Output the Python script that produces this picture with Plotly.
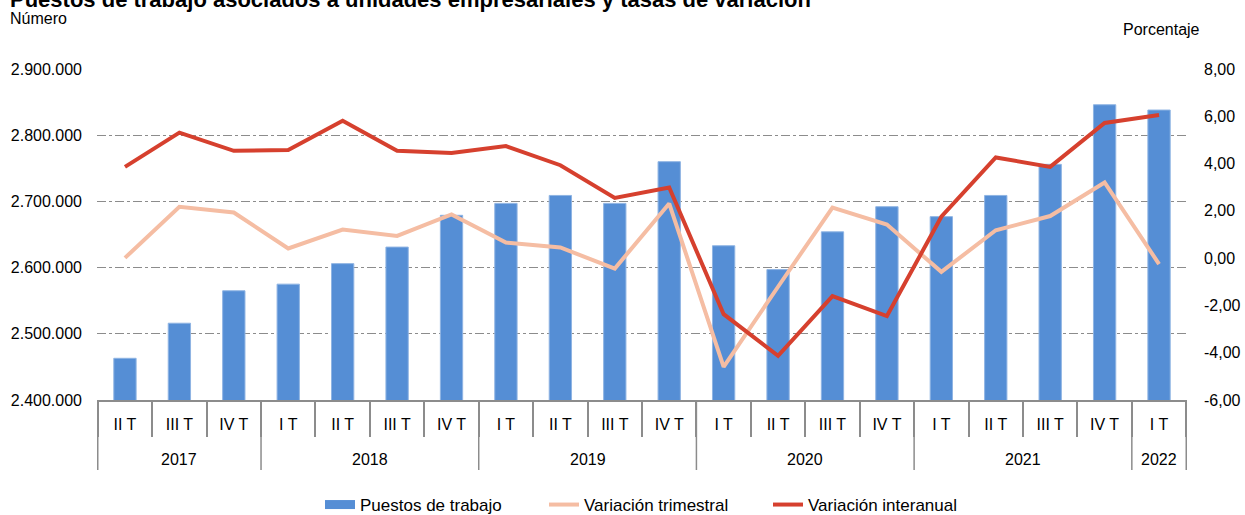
import plotly.graph_objects as go

# ---- data ----
years = ["2017", "2017", "2017",
         "2018", "2018", "2018", "2018",
         "2019", "2019", "2019", "2019",
         "2020", "2020", "2020", "2020",
         "2021", "2021", "2021", "2021",
         "2022"]
quarters = ["II T", "III T", "IV T",
            "I T", "II T", "III T", "IV T",
            "I T", "II T", "III T", "IV T",
            "I T", "II T", "III T", "IV T",
            "I T", "II T", "III T", "IV T",
            "I T"]
puestos = [2463000, 2516000, 2565000,
           2575000, 2606000, 2631000, 2679000,
           2697000, 2709000, 2697000, 2760000,
           2633000, 2597000, 2654000, 2692000,
           2677000, 2709000, 2756000, 2846000,
           2838000]
var_trimestral = [0.01, 2.17, 1.93,
                  0.41, 1.21, 0.94, 1.85,
                  0.66, 0.45, -0.44, 2.31,
                  -4.60, -1.21, 2.14, 1.42,
                  -0.58, 1.18, 1.78, 3.20,
                  -0.25]
var_interanual = [3.86, 5.31, 4.54,
                  4.57, 5.81, 4.54, 4.45,
                  4.74, 3.93, 2.55, 2.99,
                  -2.37, -4.13, -1.61, -2.45,
                  1.75, 4.26, 3.86, 5.72,
                  6.05]

left_tickvals = [2400000, 2500000, 2600000, 2700000, 2800000, 2900000]
left_ticktext = ["2.400.000", "2.500.000", "2.600.000", "2.700.000", "2.800.000", "2.900.000"]
right_tickvals = [-6, -4, -2, 0, 2, 4, 6, 8]
right_ticktext = ["-6,00", "-4,00", "-2,00", "0,00", "2,00", "4,00", "6,00", "8,00"]

title_text = "Puestos de trabajo asociados a unidades empresariales y tasas de variación"

BLUE = "#558ED5"
SALMON = "#F5BDA3"
RED = "#D6402E"
GREY = "#8C8C8C"
FONT = "Liberation Sans, Arial, sans-serif"

# unique category ids (year + quarter), shown with the quarter text
cats = [f"{y} {q}" for y, q in zip(years, quarters)]

# year groups derived from the data
groups = []
for i, y in enumerate(years):
    if not groups or groups[-1][0] != y:
        groups.append([y, i, i])
    else:
        groups[-1][2] = i

PLOT_H = 515 - 69 - 115

fig = go.Figure()
fig.add_trace(go.Bar(
    x=cats, y=puestos, name="Puestos de trabajo", yaxis="y",
    marker=dict(color=BLUE, line=dict(color="#8FB4E3", width=1)),
    showlegend=False,
))
# legend-only entry for the bars (wide rectangle swatch)
fig.add_trace(go.Scatter(
    x=[None], y=[None], mode="lines", name="Puestos de trabajo",
    line=dict(color=BLUE, width=9), showlegend=True,
))
fig.add_trace(go.Scatter(
    x=cats, y=var_trimestral, name="Variación trimestral", yaxis="y2",
    mode="lines", line=dict(color=SALMON, width=4),
))
fig.add_trace(go.Scatter(
    x=cats, y=var_interanual, name="Variación interanual", yaxis="y2",
    mode="lines", line=dict(color=RED, width=4),
))

annotations = [
    dict(text="<b>" + title_text + "</b>", xref="paper", yref="paper",
         x=(8 - 97) / 1090, y=1 + 70 / PLOT_H, xanchor="left", yanchor="middle",
         showarrow=False, font=dict(family=FONT, size=22, color="#000000")),
    dict(text="Número", xref="paper", yref="paper",
         x=(8 - 97) / 1090, y=1 + (69 - 18) / PLOT_H, xanchor="left", yanchor="middle",
         showarrow=False, font=dict(family=FONT, size=16, color="#000000")),
    dict(text="Porcentaje", xref="paper", yref="paper",
         x=(1202 - 97) / 1090, y=1 + (69 - 30) / PLOT_H, xanchor="right", yanchor="middle",
         showarrow=False, font=dict(family=FONT, size=16, color="#000000")),
]
shapes = []
for name, i0, i1 in groups:
    annotations.append(dict(
        text=name, xref="x", yref="paper", x=(i0 + i1) / 2, y=-59 / PLOT_H,
        xanchor="center", yanchor="middle", showarrow=False,
        font=dict(family=FONT, size=16, color="#000000")))
    shapes.append(dict(type="line", xref="x", yref="paper",
                       x0=i0 - 0.5, x1=i0 - 0.5, y0=0, y1=-70 / PLOT_H,
                       line=dict(color=GREY, width=1.5)))
shapes.append(dict(type="line", xref="x", yref="paper",
                   x0=groups[-1][2] + 0.5, x1=groups[-1][2] + 0.5, y0=0, y1=-70 / PLOT_H,
                   line=dict(color=GREY, width=1.5)))

fig.update_layout(
    width=1245, height=515,
    margin=dict(l=97, r=58, t=69, b=115, autoexpand=False),
    paper_bgcolor="white", plot_bgcolor="white",
    font=dict(family=FONT, size=16, color="#000000"),
    bargap=0.59,
    showlegend=True,
    legend=dict(
        orientation="h", x=0.5 + 14 / 1090, xanchor="center", y=-105 / PLOT_H, yanchor="middle",
        font=dict(family=FONT, size=17, color="#000000"),
        traceorder="normal", itemwidth=30, entrywidth=179,
    ),
    xaxis=dict(
        type="category", categoryorder="array", categoryarray=cats,
        tickvals=cats, ticktext=quarters,
        showline=True, linecolor=GREY, linewidth=1.5,
        ticks="outside", tickson="boundaries", ticklen=35, tickcolor=GREY, tickwidth=1.5,
        ticklabelstandoff=9,
        showgrid=False, zeroline=False,
        tickfont=dict(family=FONT, size=16, color="#000000"),
    ),
    yaxis=dict(
        range=[2400000, 2900000],
        tickvals=left_tickvals, ticktext=left_ticktext,
        showgrid=True, gridcolor=GREY, gridwidth=1, griddash="dashdot",
        zeroline=False, showline=False, ticks="",
        ticklabelstandoff=14,
        tickfont=dict(family=FONT, size=16, color="#000000"),
    ),
    yaxis2=dict(
        range=[-6, 8], overlaying="y", side="right",
        tickvals=right_tickvals, ticktext=right_ticktext,
        showgrid=False, zeroline=False, showline=False, ticks="",
        ticklabelstandoff=16,
        tickfont=dict(family=FONT, size=16, color="#000000"),
    ),
    annotations=annotations,
    shapes=shapes,
)

fig.write_html("out.html", config={"displayModeBar": False},
               post_script="document.body.style.margin='0';")
